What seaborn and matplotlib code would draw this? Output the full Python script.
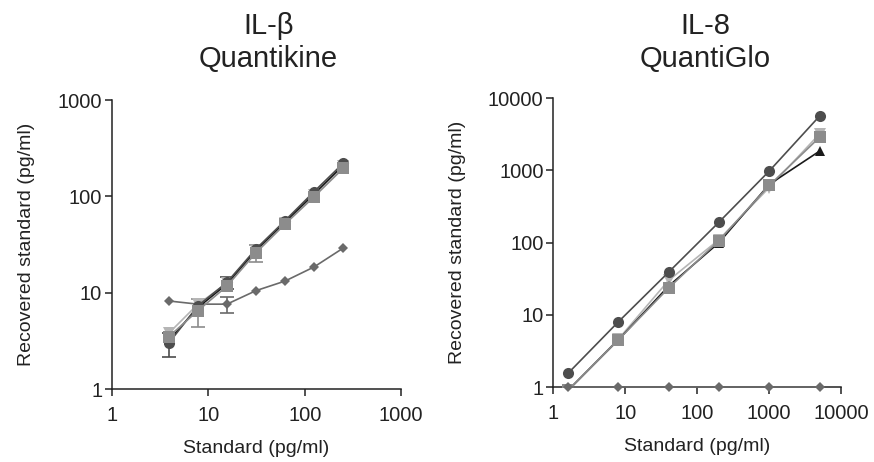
import numpy as np
import pandas as pd
import matplotlib
matplotlib.use('Agg')
import matplotlib.pyplot as plt
import matplotlib.ticker as mticker
import seaborn as sns

# IL-1b Quantikine standards (left panel)
x_left = [3.9, 7.8, 15.6, 31.25, 62.5, 125, 250]
circle_left = [3.0, 7.3, 12.8, 28.5, 56, 112, 220]
triangle_left = [3.2, 7.0, 12.3, 27.5, 54, 106, 210]
square_left = [3.5, 6.5, 11.7, 26, 51.5, 99, 195]
invtri_left = [3.8, 7.6, 12.5, 27, 53, 104, 205]
diamond_left = [8.2, 7.6, 7.6, 10.5, 13.2, 18.5, 29]
# error bars, only where they show outside the markers
circle_left_err = [0.85, 0, 1.8, 0, 0, 0, 0]
square_left_err = [0, 2.1, 0, 5.0, 0, 0, 0]
diamond_left_err = [0, 0, 1.5, 0, 0, 0, 0]

# IL-8 QuantiGlo standards (right panel)
x_right = [1.6, 8, 40, 200, 1000, 5000]
circle_right = [1.55, 8.0, 39, 192, 980, 5650]
triangle_right = [0.9, 4.5, 25, 100, 640, 1850]
invtri_right = [0.9, 4.6, 30, 110, 580, 3200]
square_right = [0.9, 4.5, 23.5, 107, 620, 2870]
diamond_right = [1, 1, 1, 1, 1, 1]

sns.set_style('ticks')
plt.rcParams['font.family'] = ['Liberation Sans', 'DejaVu Sans']

fig = plt.figure(figsize=(8.74, 4.62), dpi=100)
ax1 = fig.add_axes([0.128, 0.158, 0.331, 0.6255])
ax2 = fig.add_axes([0.633, 0.162, 0.3295, 0.6255])

styles = {
    'circle': dict(marker='o', color='#4d4d4d', ms=8),
    'triangle': dict(marker='^', color='#1a1a1a', ms=7),
    'invtri': dict(marker='v', color='#b5b5b5', ms=8),
    'square': dict(marker='s', color='#8c8c8c', ms=8),
    'diamond': dict(marker='D', color='#6a6a6a', ms=5),
}


def draw(ax, x, y, key, clip=True, err=None):
    st = styles[key]
    sns.lineplot(x=x, y=y, ax=ax, marker=st['marker'], color=st['color'],
                 markersize=st['ms'], markeredgewidth=0, linewidth=1.2,
                 clip_on=clip, zorder=3)
    if err is not None:
        idx = [i for i, e in enumerate(err) if e > 0]
        ax.errorbar([x[i] for i in idx], [y[i] for i in idx],
                    yerr=[err[i] for i in idx], fmt='none', ecolor=st['color'],
                    elinewidth=1.2, capsize=5, capthick=1.2, zorder=2)


draw(ax1, x_left, diamond_left, 'diamond', err=diamond_left_err)
draw(ax1, x_left, invtri_left, 'invtri')
draw(ax1, x_left, triangle_left, 'triangle')
draw(ax1, x_left, circle_left, 'circle', err=circle_left_err)
draw(ax1, x_left, square_left, 'square', err=square_left_err)

draw(ax2, x_right, invtri_right, 'invtri')
draw(ax2, x_right, triangle_right, 'triangle')
draw(ax2, x_right, square_right, 'square')
draw(ax2, x_right, circle_right, 'circle')
draw(ax2, x_right, diamond_right, 'diamond', clip=False)

for ax, top in [(ax1, 1000), (ax2, 10000)]:
    ax.set_xscale('log')
    ax.set_yscale('log')
    ax.set_xlim(1, top)
    ax.set_ylim(1, top)
    for axis in (ax.xaxis, ax.yaxis):
        axis.set_major_locator(mticker.LogLocator(base=10, numticks=10))
        axis.set_minor_locator(mticker.NullLocator())
        axis.set_major_formatter(mticker.FuncFormatter(lambda v, p: '%d' % round(v)))
    ax.tick_params(labelsize=14.5, length=5, width=1.1, color='#222222',
                   labelcolor='#222222')
    ax.tick_params(axis='x', pad=7)
    ax.tick_params(axis='y', pad=2)
    for s in ('left', 'bottom'):
        ax.spines[s].set_linewidth(1.1)
        ax.spines[s].set_color('#222222')
    sns.despine(ax=ax)
    ax.set_xlabel('Standard (pg/ml)', fontsize=14, color='#222222', labelpad=11)
    ax.set_ylabel('Recovered standard (pg/ml)', fontsize=14, color='#222222', labelpad=16)

fig.text(0.307, 0.975, 'IL-\u03b2\nQuantikine', ha='center', va='top',
         fontsize=21, linespacing=1.25, color='#222222')
fig.text(0.807, 0.975, 'IL-8\nQuantiGlo', ha='center', va='top',
         fontsize=21, linespacing=1.25, color='#222222')

fig.savefig('out.png', dpi=100)
